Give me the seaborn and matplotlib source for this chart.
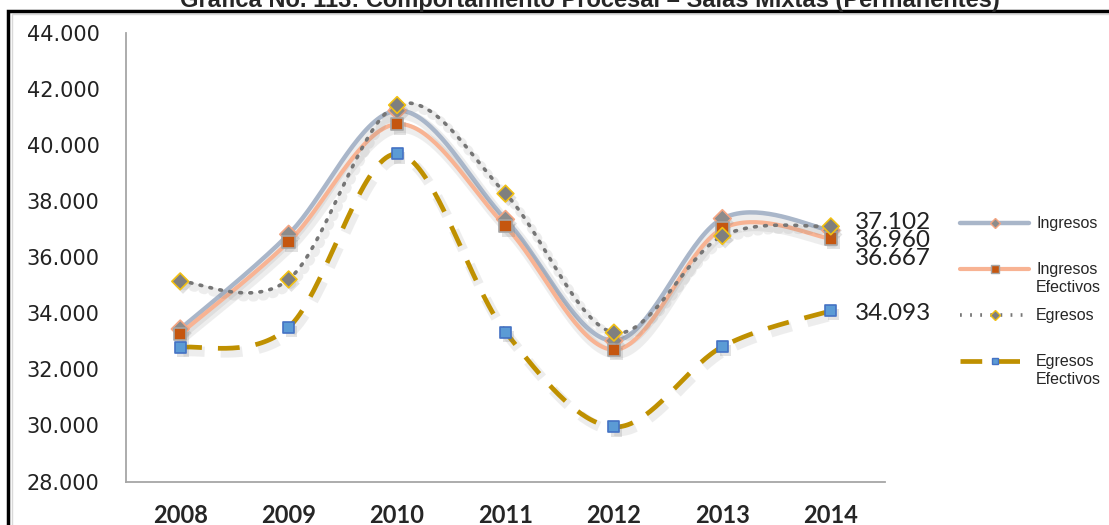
import numpy as np
import pandas as pd
import matplotlib
matplotlib.use("Agg")
import matplotlib.pyplot as plt
import matplotlib.patheffects as pe
from matplotlib.lines import Line2D
from matplotlib.patches import Rectangle
from matplotlib.legend_handler import HandlerLine2D
import seaborn as sns

# datos
years = ['2008', '2009', '2010', '2011', '2012', '2013', '2014']
ingresos = [33440, 36820, 41230, 37350, 33020, 37380, 36960]
ingresos_ef = [33270, 36550, 40750, 37110, 32700, 37020, 36667]
egresos = [35140, 35210, 41430, 38270, 33310, 36760, 37102]
egresos_ef = [32780, 33500, 39690, 33330, 29950, 32810, 34093]
y_ticks = [28000, 30000, 32000, 34000, 36000, 38000, 40000, 42000, 44000]
titulo = 'Gráfica No. 113: Comportamiento Procesal – Salas Mixtas (Permanentes)'


def suavizar(xs, ys, n=40):
    # curva suavizada tipo excel (bezier con tangentes catmull-rom)
    p = np.column_stack([xs, ys]).astype(float)
    p = np.vstack([p[0], p, p[-1]])
    t = np.linspace(0, 1, n)[:, None]
    out = []
    for i in range(1, len(p) - 2):
        p0, p1, p2, p3 = p[i - 1], p[i], p[i + 1], p[i + 2]
        c1 = p1 + (p2 - p0) / 6
        c2 = p2 - (p3 - p1) / 6
        seg = (1 - t) ** 3 * p1 + 3 * (1 - t) ** 2 * t * c1 + 3 * (1 - t) * t ** 2 * c2 + t ** 3 * p2
        out.append(seg if i == 1 else seg[1:])
    out = np.vstack(out)
    return pd.DataFrame({'x': out[:, 0], 'y': out[:, 1]})


class ManejadorArriba(HandlerLine2D):
    # pone el simbolo de la leyenda a la altura de la primera linea del texto
    def __init__(self, dy, **kw):
        super().__init__(**kw)
        self.dy = dy

    def create_artists(self, legend, orig_handle, xdescent, ydescent, width, height, fontsize, trans):
        arts = super().create_artists(legend, orig_handle, xdescent, ydescent, width, height, fontsize, trans)
        for a in arts:
            a.set_ydata(np.asarray(a.get_ydata(), float) + self.dy * fontsize)
        return arts


sns.set_style('white')
plt.rcParams['font.family'] = ['DejaVu Sans']

fig = plt.figure(figsize=(11.09, 5.25), dpi=100)
ax = fig.add_axes([126 / 1109, 1 - 481.5 / 525, (885 - 126) / 1109, 448.5 / 525])

xi = np.arange(len(years))
sombra_l = lambda w: [pe.SimpleLineShadow(offset=(2, -3), shadow_color='0.45', alpha=0.12, linewidth=w + 4), pe.Normal()]
sombra_m = [pe.SimplePatchShadow(offset=(2, -3), shadow_rgbFace='0.45', alpha=0.2), pe.Normal()]

series = [
    # nombre, valores, color linea, ancho, estilo, marcador, relleno, borde, tam
    ('Ingresos', ingresos, '#A9B6C9', 3.2, '-', 'D', '#8C8C8C', '#F4A582', 9),
    ('Ingresos\nEfectivos', ingresos_ef, '#F8B393', 3.0, '-', 's', '#C5560F', '#A6A6A6', 9),
    ('Egresos', egresos, '#767676', 2.6, (0, (0.5, 2.3)), 'D', '#7F7F7F', '#F2C012', 8.5),
    ('Egresos\nEfectivos', egresos_ef, '#BF9000', 3.4, (0, (4.6, 3.4)), 's', '#5B9BD5', '#4472C4', 8),
]

for k, (nom, vals, lc, lw, ls, mk, mf, me, ms) in enumerate(series):
    df = suavizar(xi, vals)
    sns.lineplot(data=df, x='x', y='y', ax=ax, color=lc, linewidth=lw, sort=False,
                 estimator=None, zorder=2 + k)
    ln = ax.lines[-1]
    ln.set_linestyle(ls)
    ln.set_solid_capstyle('round')
    ln.set_dash_capstyle('round' if k == 2 else 'butt')
    ln.set_path_effects(sombra_l(lw))
    sns.scatterplot(x=xi, y=vals, ax=ax, marker=mk, s=ms ** 2, color=mf,
                    edgecolor=me, linewidth=1.2, zorder=10 + k)
    ax.collections[-1].set_path_effects(sombra_m)

# etiquetas de datos en 2014
etiquetas = [(egresos[-1], -4), (ingresos[-1], 10), (ingresos_ef[-1], 20), (egresos_ef[-1], 3)]
for v, dy in etiquetas:
    ax.annotate(f'{v / 1000:.3f}', xy=(xi[-1], v), xytext=(24, -dy), textcoords='offset pixels',
                ha='left', va='center', fontsize=17.5, color='#222222', family=['Lato', 'DejaVu Sans'],
                annotation_clip=False)

ax.set_xlim(-0.5, len(years) - 0.5)
ax.set_ylim(28000, 44000)
ax.set_xticks(xi)
ax.set_xticklabels(years, fontsize=17, fontweight='bold', family=['Lato', 'DejaVu Sans'])
ax.set_yticks(y_ticks)
ax.set_yticklabels([f'{t // 1000}.000' for t in y_ticks], fontsize=15, color='#222222')
ax.tick_params(axis='x', length=0, pad=16)
ax.tick_params(axis='y', length=0, pad=19)
ax.set_xlabel('')
ax.set_ylabel('')
for s in ['top', 'right']:
    ax.spines[s].set_visible(False)
for s in ['left', 'bottom']:
    ax.spines[s].set_color('#A6A6A6')
    ax.spines[s].set_linewidth(1.3)

# leyenda
handles = []
for nom, vals, lc, lw, ls, mk, mf, me, ms in series:
    handles.append(Line2D([0], [0], color=lc, lw=lw, linestyle=ls, marker=mk, markersize=ms * 0.62,
                          markerfacecolor=mf, markeredgecolor=me, markeredgewidth=1.0))
labels = [s[0] if '\n' in s[0] else s[0] + '\n ' for s in series]
fig.legend(handles, labels, loc='upper left', bbox_to_anchor=(946 / 1109, 1 - 202 / 525),
           frameon=False, handlelength=4.3, handletextpad=0.45, labelspacing=0.85,
           handler_map={Line2D: ManejadorArriba(0.6)},
           prop={'family': ['Liberation Sans', 'DejaVu Sans'], 'size': 11.5})

# marco y titulo
fig.patches.append(Rectangle((12 / 1109, -0.1), 1.2, 1.1 - 14 / 525, transform=fig.transFigure,
                             fill=False, edgecolor='#D9D9D9', linewidth=1.0))
fig.patches.append(Rectangle((8 / 1109, -0.1), 1.2, 1.1 - 11 / 525, transform=fig.transFigure,
                             fill=False, edgecolor='black', linewidth=2.5))
fig.text(0.532, 1 - 7 / 525, titulo, ha='center', va='baseline', fontsize=17, fontweight='bold',
         family=['Liberation Sans', 'DejaVu Sans'])

fig.savefig('out.png', dpi=100)
